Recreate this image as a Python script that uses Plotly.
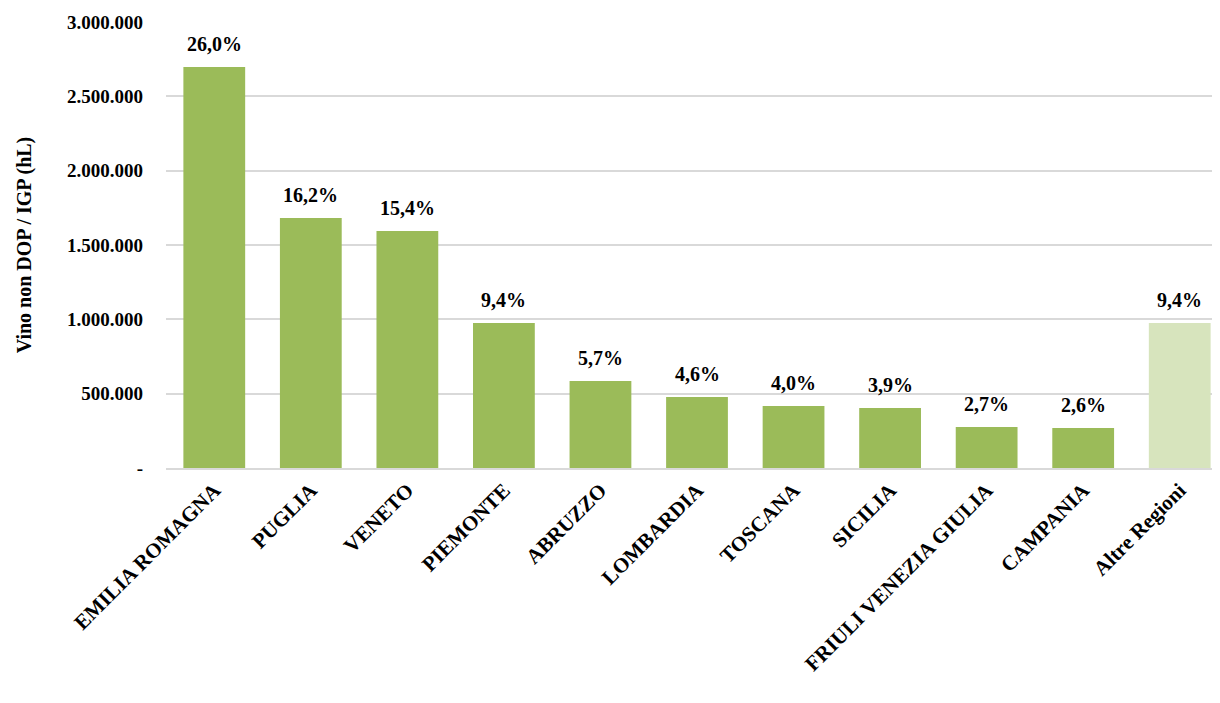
import plotly.graph_objs as go

regioni = ["EMILIA ROMAGNA", "PUGLIA", "VENETO", "PIEMONTE", "ABRUZZO", "LOMBARDIA",
           "TOSCANA", "SICILIA", "FRIULI VENEZIA GIULIA", "CAMPANIA", "Altre Regioni"]
volumi = [2697000, 1682000, 1594000, 975000, 585000, 478000, 417000, 404000, 276000, 269000, 975000]
quote = ["26,0%", "16,2%", "15,4%", "9,4%", "5,7%", "4,6%", "4,0%", "3,9%", "2,7%", "2,6%", "9,4%"]
colori = ["#9BBB59"] * 10 + ["#D7E4BD"]

font = "Liberation Serif"

fig = go.Figure(go.Bar(
    x=regioni, y=volumi, marker_color=colori, marker_line_width=0,
))
for r, v, q in zip(regioni, volumi, quote):
    fig.add_annotation(x=r, y=v, text="<b>%s</b>" % q, showarrow=False, yanchor="bottom",
                       yshift=10, font=dict(family=font, size=20, color="black"))

tickv = [0, 500000, 1000000, 1500000, 2000000, 2500000, 3000000]
tickt = ["<b>-</b>"] + ["<b>" + f"{v:,}".replace(",", ".") + "</b>" for v in tickv[1:]]

fig.update_layout(
    width=1220, height=703, plot_bgcolor="white", paper_bgcolor="white",
    margin=dict(l=158, r=0, t=14, b=243), bargap=0.36, showlegend=False,
    font=dict(family=font, color="black"),
    yaxis=dict(range=[0, 3000000], tickvals=tickv, ticktext=tickt, showgrid=True,
               gridcolor="#D9D9D9", gridwidth=1.5, zeroline=False, ticks="", automargin=False,
               tickfont=dict(size=19), ticklabelstandoff=22,
               title=dict(text="<b>Vino non DOP / IGP (hL)</b>", font=dict(size=20), standoff=30)),
    xaxis=dict(tickangle=-45, tickfont=dict(size=21), showline=True, linecolor="#D9D9D9",
               linewidth=1.5, ticks="", automargin=False,
               tickvals=regioni, ticktext=["<b>%s</b>" % r for r in regioni]),
)
fig.write_html("out.html")
